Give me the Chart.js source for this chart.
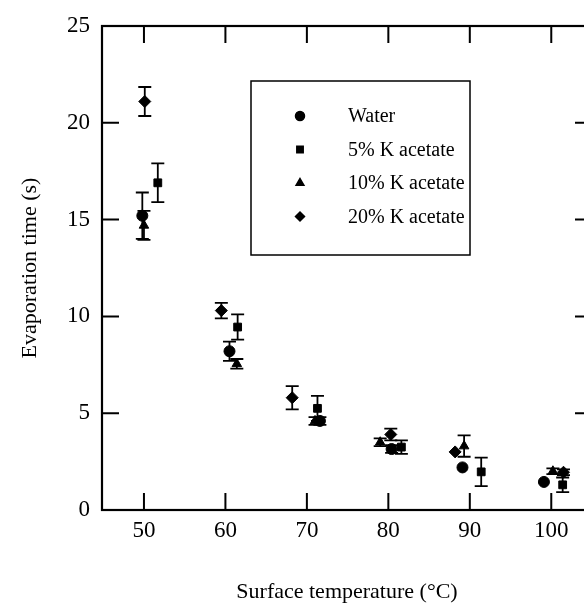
<!DOCTYPE html>
<html>
<head>
<meta charset="utf-8">
<script src="https://cdn.jsdelivr.net/npm/chart.js@4.4.1/dist/chart.umd.min.js"></script>
<style>
  html, body { margin: 0; padding: 0; background: #fff; overflow: hidden; }
  #wrap { width: 600px; height: 610px; }
</style>
</head>
<body>
<div id="wrap"><canvas id="plot" width="600" height="610"></canvas></div>
<script>
// tick labels
const xTicks = [50, 60, 70, 80, 90, 100];
const yTicks = [0, 5, 10, 15, 20, 25];

// series (temperature, time, +/- error)
const waterX = [49.8, 60.5, 71.6, 80.4, 89.1, 99.1];
const waterY = [15.2, 8.2, 4.6, 3.15, 2.2, 1.45];
const waterErr = [1.2, 0.5, 0.2, 0.2, 0, 0];

const k5X = [51.7, 61.5, 71.3, 81.6, 91.4, 101.4];
const k5Y = [16.9, 9.45, 5.25, 3.25, 1.97, 1.3];
const k5Err = [1.0, 0.65, 0.65, 0.35, 0.74, 0.38];

const k10X = [50.0, 61.4, 71.0, 79.0, 89.3, 100.2];
const k10Y = [14.7, 7.55, 4.6, 3.5, 3.3, 2.0];
const k10Err = [0.75, 0.25, 0.2, 0.2, 0.55, 0.15];

const k20X = [50.1, 59.5, 68.2, 80.3, 88.2, 101.5];
const k20Y = [21.1, 10.3, 5.8, 3.9, 3.0, 1.95];
const k20Err = [0.75, 0.4, 0.6, 0.3, 0, 0.15];

const labels = ['Water', '5% K acetate', '10% K acetate', '20% K acetate'];
const styles = ['circle', 'rect', 'triangle', 'rectRot'];

let toPoints = (xs, ys) => xs.map((x, i) => ({ x: x, y: ys[i] }));

const series = [
  { x: waterX, y: waterY, err: waterErr },
  { x: k5X, y: k5Y, err: k5Err },
  { x: k10X, y: k10Y, err: k10Err },
  { x: k20X, y: k20Y, err: k20Err },
];

const serif = '"Liberation Serif", "DejaVu Serif", serif';

// error bars, frame with inward ticks, legend box
let extras = {
  id: 'extras',
  afterDatasetsDraw(chart) {
    const ctx = chart.ctx;
    const xs = chart.scales.x, ys = chart.scales.y;
    const area = chart.chartArea;
    ctx.save();
    ctx.strokeStyle = '#000';
    ctx.lineWidth = 1.8;

    // error bars
    series.forEach(s => {
      s.x.forEach((xv, i) => {
        if (!s.err[i]) return;
        let px = xs.getPixelForValue(xv);
        let top = ys.getPixelForValue(s.y[i] + s.err[i]);
        let bot = ys.getPixelForValue(s.y[i] - s.err[i]);
        ctx.beginPath();
        ctx.moveTo(px, top); ctx.lineTo(px, bot);
        ctx.moveTo(px - 6.5, top); ctx.lineTo(px + 6.5, top);
        ctx.moveTo(px - 6.5, bot); ctx.lineTo(px + 6.5, bot);
        ctx.stroke();
      });
    });

    // frame
    ctx.lineWidth = 2.2;
    ctx.strokeRect(area.left, area.top, area.right - area.left, area.bottom - area.top);

    // inward ticks
    ctx.lineWidth = 2;
    ctx.beginPath();
    xTicks.forEach(v => {
      let px = xs.getPixelForValue(v);
      ctx.moveTo(px, area.bottom); ctx.lineTo(px, area.bottom - 17);
      ctx.moveTo(px, area.top); ctx.lineTo(px, area.top + 17);
    });
    yTicks.forEach(v => {
      let py = ys.getPixelForValue(v);
      ctx.moveTo(area.left, py); ctx.lineTo(area.left + 17, py);
      ctx.moveTo(area.right, py); ctx.lineTo(area.right - 17, py);
    });
    ctx.stroke();

    // legend
    ctx.lineWidth = 1.5;
    ctx.strokeRect(251, 81, 219, 174);
    ctx.fillStyle = '#000';
    ctx.font = '20px ' + serif;
    ctx.textBaseline = 'middle';
    ctx.textAlign = 'left';
    labels.forEach((lab, i) => {
      let y = 116 + i * 33.5;
      Chart.helpers.drawPoint(ctx, { pointStyle: styles[i], radius: 4.5, rotation: 0, borderWidth: 1 }, 300, y);
      ctx.fill();
      ctx.fillText(lab, 348, y + 1);
    });
    ctx.restore();
  }
};

let datasets = series.map((s, i) => ({
  label: labels[i],
  data: toPoints(s.x, s.y),
  pointStyle: styles[i],
  pointRadius: styles[i] === 'rectRot' ? 6 : 5.5,
  backgroundColor: '#000',
  borderColor: '#000',
  borderWidth: 1,
  showLine: false,
}));

new Chart(document.getElementById('plot'), {
  type: 'scatter',
  data: { datasets: datasets },
  plugins: [extras],
  options: {
    responsive: false,
    animation: false,
    layout: { padding: { left: 0, top: 26, right: 8, bottom: 0 } },
    plugins: { legend: { display: false }, tooltip: { enabled: false } },
    scales: {
      x: {
        type: 'linear',
        min: 44.85,
        max: 105,
        afterBuildTicks: scale => { scale.ticks = xTicks.map(v => ({ value: v })); },
        afterFit: scale => { scale.height = 100; },
        grid: { display: false, drawTicks: false },
        border: { display: false },
        ticks: { color: '#000', font: { family: serif, size: 23 }, padding: 7 },
        title: {
          display: true,
          text: 'Surface temperature (°C)',
          color: '#000',
          font: { family: serif, size: 22 },
          padding: { top: 0, bottom: 5 },
        },
      },
      y: {
        type: 'linear',
        min: 0,
        max: 25,
        afterBuildTicks: scale => { scale.ticks = yTicks.map(v => ({ value: v })); },
        afterFit: scale => { scale.width = 102; },
        grid: { display: false, drawTicks: false },
        border: { display: false },
        ticks: { color: '#000', font: { family: serif, size: 23 }, padding: 12 },
        title: {
          display: true,
          text: 'Evaporation time (s)',
          color: '#000',
          font: { family: serif, size: 22 },
          padding: { top: 17, bottom: 0 },
        },
      },
    },
  },
});
</script>
</body>
</html>
